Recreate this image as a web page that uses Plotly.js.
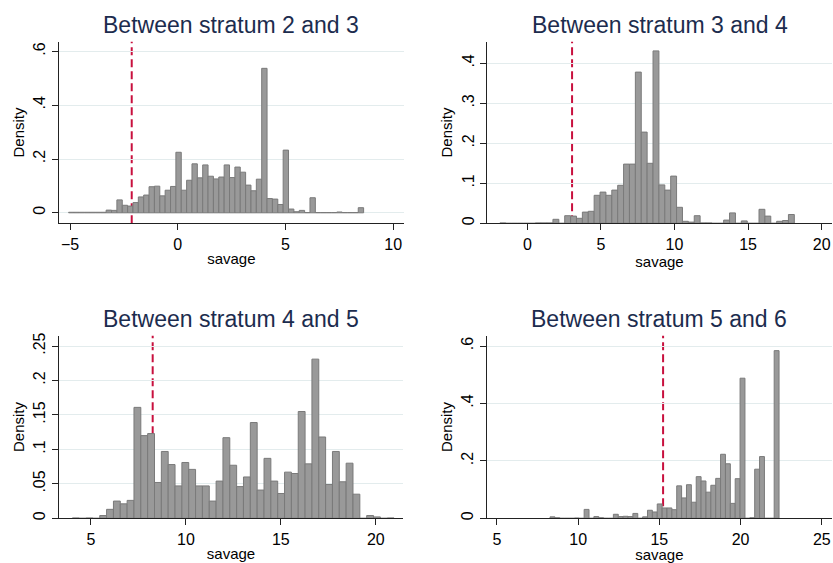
<!DOCTYPE html>
<html>
<head>
<meta charset="utf-8">
<script src="https://cdn.plot.ly/plotly-3.0.1.min.js"></script>
<style>html,body{margin:0;padding:0;background:#fff}#chart{width:833px;height:563px}</style>
</head>
<body>
<div id="chart"></div>
<script>
// ---- data ----
const panelTitles = ["Between stratum 2 and 3", "Between stratum 3 and 4", "Between stratum 4 and 5", "Between stratum 5 and 6"];
const xTitle = "savage";
const yTitle = "Density";

// histogram bins: start of first bin, bin width, densities
const binStart1 = -5.07, binWidth1 = 0.249;
const density1 = [0.002,0.002,0.002,0.002,0.002,0.002,0.002,0.010,0.009,0.048,
  0.028,0.025,0.038,0.059,0.066,0.097,0.099,0.063,0.084,0.098,
  0.225,0.084,0.121,0.182,0.130,0.178,0.136,0.126,0.133,0.178,
  0.131,0.170,0.151,0.103,0.082,0.125,0.537,0.053,0.051,0.031,
  0.233,0.014,0.004,0.009,0.001,0.056,0.001,0.001,0.001,0.001,
  0.003,0.001,0.001,0.001,0.019];

const binStart2 = -1.86, binWidth2 = 0.4;
const density2 = [0.001,0,0,0,0,0,0.001,0.001,0.001,0.010,
  0,0.019,0.018,0.0125,0.028,0.030,0.070,0.078,0.070,0.083,
  0.095,0.148,0.148,0.378,0.228,0.150,0.431,0.096,0.083,0.118,
  0.040,0.005,0.003,0.019,0.001,0.001,0,0,0.008,0.026,
  0,0.006,0,0,0.035,0.018,0,0.005,0.007,0.022];

const binStart3 = 4.02, binWidth3 = 0.3605;
const density3 = [0.0005,0,0.0005,0,0.004,0.013,0.025,0.021,0.026,0.161,
  0.120,0.123,0.052,0.097,0.078,0.047,0.081,0.071,0.047,0.047,
  0.025,0.054,0.117,0.077,0.046,0.060,0.139,0.041,0.087,0.054,
  0.036,0.067,0.065,0.155,0.079,0.231,0.118,0.049,0.097,0.053,
  0.080,0.035,0,0.004,0.002,0,0.0005];

const binStart4 = 8.27, binWidth4 = 0.3;
const density4 = [0.005,0.002,0,0,0,0.001,0,0.031,0,0.006,
  0.002,0,0,0.014,0.006,0.007,0.006,0.017,0,0.005,
  0.028,0.022,0.050,0.036,0.036,0.030,0.113,0.071,0.117,0.056,
  0.145,0.130,0.091,0.115,0.139,0.223,0.190,0.052,0.138,0.488,
  0,0.002,0.171,0.215,0,0,0.584];

const cutoffs = [-2.14, 3.04, 8.25, 15.23];

const xTickVals = [[-5,0,5,10],[0,5,10,15,20],[5,10,15,20],[5,10,15,20,25]];
const yTickVals = [[0,0.2,0.4,0.6],[0,0.1,0.2,0.3,0.4],[0,0.05,0.1,0.15,0.2,0.25],[0,0.2,0.4,0.6]];
const yTickText = [["0",".2",".4",".6"],["0",".1",".2",".3",".4"],["0",".05",".1",".15",".2",".25"],["0",".2",".4",".6"]];

// ---- layout geometry ----
const W = 833, H = 563;
const panels = [
  {starts: binStart1, w: binWidth1, d: density1, xr: [-5.53, 10.5], yr: [-0.039, 0.636], px: [58.7, 404], py: [41.7, 223.3]},
  {starts: binStart2, w: binWidth2, d: density2, xr: [-2.74, 20.7], yr: [0, 0.454], px: [487, 832], py: [41.7, 223.3]},
  {starts: binStart3, w: binWidth3, d: density3, xr: [3.30, 21.45], yr: [0, 0.265], px: [58.7, 403.3], py: [335.7, 518.3]},
  {starts: binStart4, w: binWidth4, d: density4, xr: [4.37, 25.63], yr: [0, 0.636], px: [486.7, 832], py: [335.7, 518.3]}
];

const font = "Liberation Sans, Arial, sans-serif";
const traces = [];
const layout = {
  width: W, height: H,
  margin: {l: 0, r: 0, t: 0, b: 0},
  paper_bgcolor: "#ffffff", plot_bgcolor: "#ffffff",
  showlegend: false,
  bargap: 0,
  font: {family: font, size: 15, color: "#000"},
  shapes: [], annotations: []
};

panels.forEach((p, k) => {
  const n = k + 1;
  const xa = n === 1 ? "x" : "x" + n;
  const ya = n === 1 ? "y" : "y" + n;
  const xs = p.d.map((_, i) => p.starts + (i + 0.5) * p.w);
  traces.push({
    type: "bar", x: xs, y: p.d, width: p.w, xaxis: xa, yaxis: ya,
    marker: {color: "#999999", line: {color: "#7a7a7a", width: 1}},
    hoverinfo: "x+y"
  });
  const xd = [p.px[0] / W, p.px[1] / W];
  const yd = [(H - p.py[1]) / H, (H - p.py[0]) / H];
  layout["xaxis" + (n === 1 ? "" : n)] = {
    domain: xd, anchor: ya, range: p.xr, tickvals: xTickVals[k],
    showgrid: false, zeroline: false, showline: true, linecolor: "#222", linewidth: 1,
    ticks: "outside", ticklen: 6, tickcolor: "#222", tickfont: {size: 16, color: "#000"},
    title: {text: xTitle, font: {size: 15, color: "#000"}, standoff: 1}, automargin: false
  };
  layout["yaxis" + (n === 1 ? "" : n)] = {
    domain: yd, anchor: xa, range: p.yr, tickvals: yTickVals[k], ticktext: yTickText[k],
    tickangle: -90, showgrid: true, gridcolor: "#e3eced", gridwidth: 1,
    zeroline: false, showline: true, linecolor: "#222", linewidth: 1,
    ticks: "outside", ticklen: 6, tickcolor: "#222", tickfont: {size: 16, color: "#000"},
    title: {text: yTitle, font: {size: 15, color: "#000"}, standoff: 3}, automargin: false
  };
  layout.shapes.push({
    type: "line", xref: xa, yref: "paper", x0: cutoffs[k], x1: cutoffs[k],
    y0: yd[0], y1: yd[1],
    line: {color: "#c8103e", width: 2, dash: "8px,4px"}, layer: "below"
  });
  layout.annotations.push({
    text: panelTitles[k], xref: "paper", yref: "paper",
    x: (xd[0] + xd[1]) / 2, y: (H - (p.py[0] - 17)) / H,
    xanchor: "center", yanchor: "middle", showarrow: false,
    font: {size: 23, color: "#1c2c4e", family: font}
  });
});

Plotly.newPlot("chart", traces, layout, {staticPlot: true, displayModeBar: false});
</script>
</body>
</html>
